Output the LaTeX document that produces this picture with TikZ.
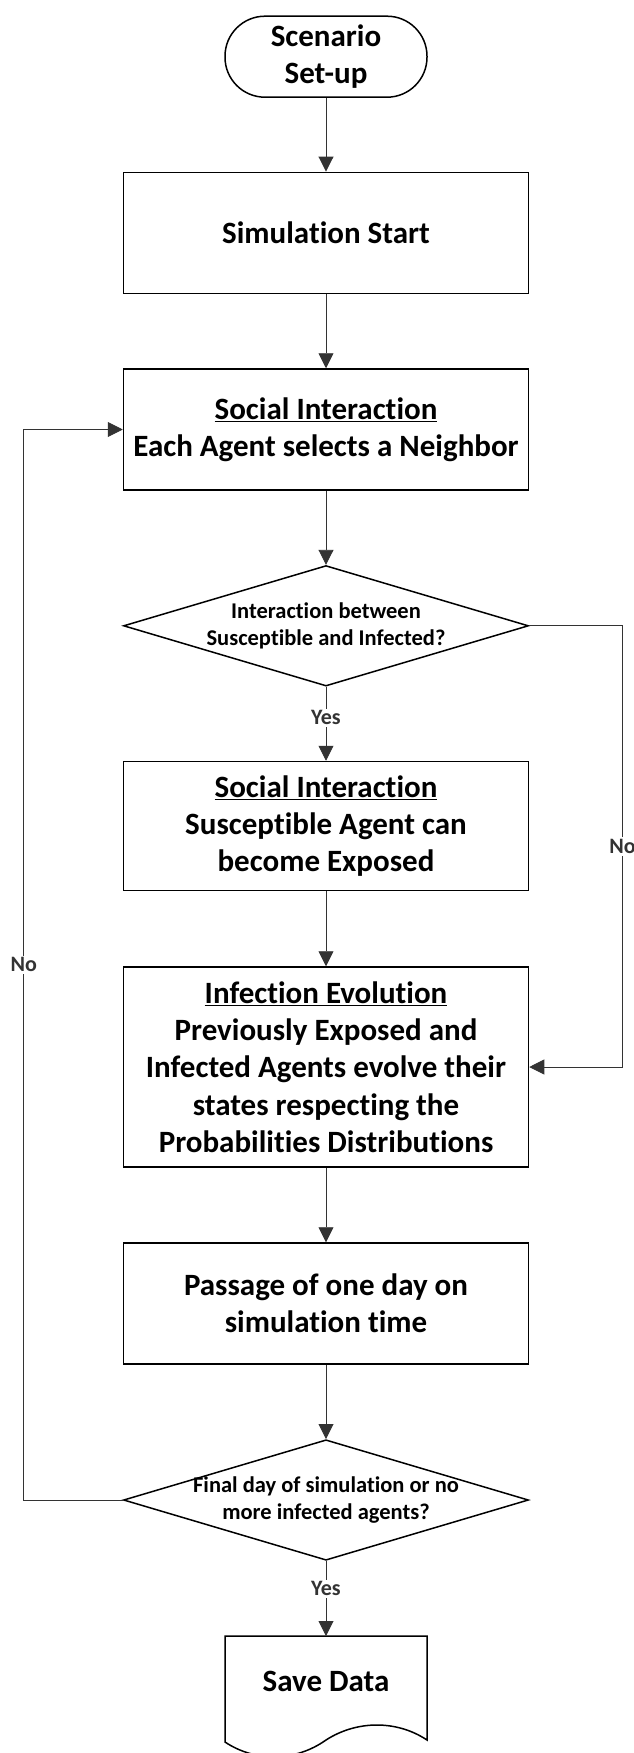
\documentclass[tikz,border=0pt]{standalone}
\usepackage{fontspec}
\setmainfont[RawFeature={-liga;-clig;-dlig;-calt}]{Carlito}
\usetikzlibrary{shapes.geometric, arrows.meta, positioning}

\begin{document}
\begin{tikzpicture}[x=1pt, y=-1pt,
  proc/.style={draw, line width=1.5pt, minimum width=405pt, inner sep=2pt, align=center, font=\fontsize{31}{37.3}\selectfont\bfseries},
  decision/.style={draw, diamond, line width=1.5pt, minimum width=405pt, minimum height=120.5pt, inner sep=0pt},
  qtext/.style={align=center, font=\fontsize{22.5}{27.5}\selectfont\bfseries},
  lbl/.style={fill=white, inner sep=2pt, font=\fontsize{22}{26}\selectfont\bfseries},
  arr/.style={-{Triangle[length=15pt, width=15pt]}, line width=0.9pt, black!80}]
  \useasboundingbox (0,0) rectangle (634,1753);

  \node[draw, line width=1.5pt, rounded corners=40pt, minimum width=202pt, minimum height=81pt, align=center, font=\fontsize{31}{36.7}\selectfont\bfseries] (setup) at (326,56.7) {Scenario\\Set-up};
  \node[proc, minimum height=121.4pt] (simstart) at (326,233) {Simulation Start};
  \node[proc, minimum height=121pt] (neighbor) at (326,429.5) {\underline{Social Interaction}\\Each Agent selects a Neighbor};

  \node[decision] (contact) at (326,625.8) {};
  \node[qtext] (contactq) at (contact.center) {Interaction between\\Susceptible and Infected?};

  \node[proc, minimum height=129pt] (exposure) at (326,826) {\underline{Social Interaction}\\Susceptible Agent can\\become Exposed};
  \node[proc, minimum height=200pt] (evolution) at (326,1067) {\underline{Infection Evolution}\\Previously Exposed and\\Infected Agents evolve their\\states respecting the\\Probabilities Distributions};
  \node[proc, minimum height=121pt] (passage) at (326,1303.5) {Passage of one day on\\simulation time};

  \node[decision] (finalday) at (326,1500) {};
  \node[qtext] (finaldayq) at (finalday.center) {Final day of simulation or no\\more infected agents?};

  \node[outer sep=0pt, minimum width=202pt, minimum height=90pt, anchor=north, font=\fontsize{31}{37.3}\selectfont\bfseries] (savedata) at (326,1636) {Save Data};
  \draw[line width=1.5pt] (savedata.north west) -- (savedata.north east) -- (427,1740)
    .. controls (397,1720) and (357,1720) .. (326,1740)
    .. controls (295,1762) and (255,1762) .. (225,1742) -- cycle;

  \draw[arr] (setup) -- (simstart);
  \draw[arr] (simstart) -- (neighbor);
  \draw[arr] (neighbor) -- (contact);
  \draw[arr] (contact) -- node[lbl, pos=0.42] {Yes} (exposure);
  \draw[arr] (contact.east) -- ++(93.4,0) |- node[lbl, pos=0.25] {No} (evolution.east);
  \draw[arr] (exposure) -- (evolution);
  \draw[arr] (evolution) -- (passage);
  \draw[arr] (passage) -- (finalday);
  \draw[arr] (finalday) -- node[lbl, pos=0.37] {Yes} (savedata);
  \draw[arr] (finalday.west) -- ++(-99,0) |- node[lbl, pos=0.25] {No} (neighbor.west);
\end{tikzpicture}
\end{document}
